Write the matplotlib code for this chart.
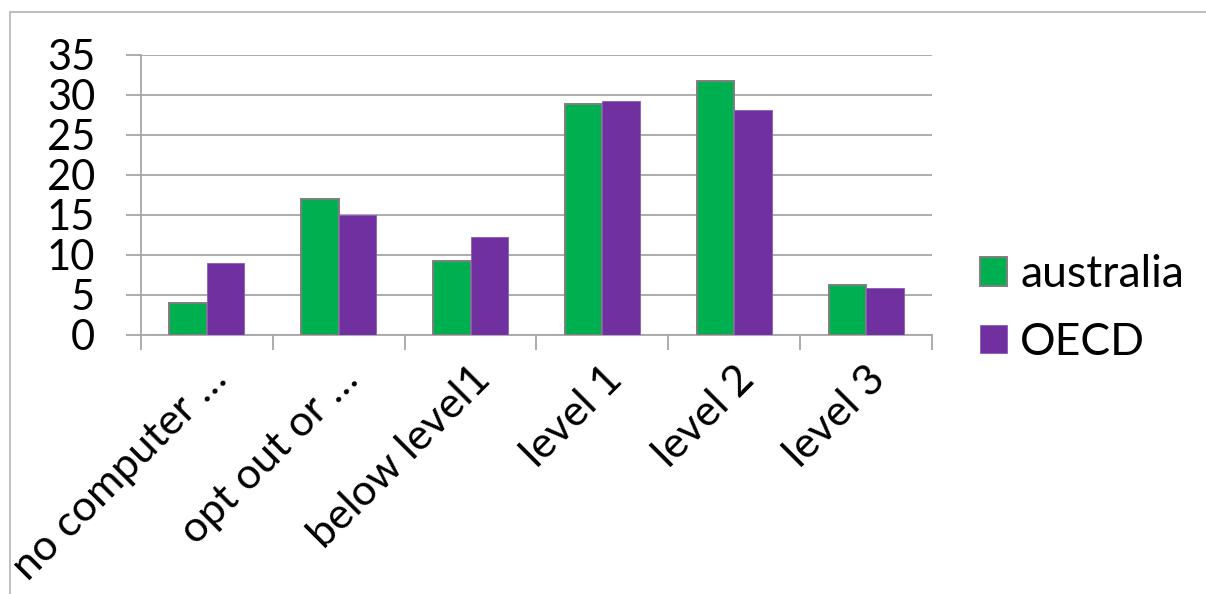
import matplotlib
matplotlib.use("Agg")
import matplotlib.pyplot as plt
import numpy as np
from matplotlib.patches import Rectangle

categories = ["no computer \u2026", "opt out or \u2026", "below level1", "level 1", "level 2", "level 3"]
australia = [4.0, 17.0, 9.2, 28.9, 31.8, 6.2]
oecd = [8.95, 15.0, 12.25, 29.3, 28.15, 5.8]
series_names = ["australia", "OECD"]
yticks = [0, 5, 10, 15, 20, 25, 30, 35]

plt.rcParams['font.family'] = ['Lato', 'DejaVu Sans']

fig = plt.figure(figsize=(12.06, 5.94), dpi=100)
ax = fig.add_axes([141/1206, (594-334.5)/594, (932-141)/1206, (334.5-55)/594])

# outer border like the Excel chart area
fig.patches.append(Rectangle((10/1206, -0.1), 1.2, (594-12)/594 + 0.1,
                             transform=fig.transFigure, fill=False,
                             edgecolor='#b4b4b4', linewidth=1.2))

x = np.arange(len(categories))
w = 0.285
ax.bar(x - w/2, australia, w, color='#00B050', edgecolor='#7f7f7f', linewidth=1.4,
       label=series_names[0], zorder=3)
ax.bar(x + w/2, oecd, w, color='#7030A0', edgecolor='#8a5cb8', linewidth=0.6,
       label=series_names[1], zorder=3)

ax.set_xlim(-0.5, len(categories) - 0.5)
ax.set_ylim(0, 35)
ax.set_yticks(yticks)
ax.yaxis.grid(True, color='#a6a6a6', linewidth=1.3, zorder=0)
ax.set_axisbelow(True)

for s in ['top', 'right']:
    ax.spines[s].set_visible(False)
ax.spines['left'].set_color('#a6a6a6')
ax.spines['bottom'].set_color('#a6a6a6')
ax.spines['left'].set_linewidth(1.3)
ax.spines['bottom'].set_linewidth(1.3)

# category boundaries as major ticks, labels on minor ticks
ax.set_xticks(np.arange(len(categories) + 1) - 0.5)
ax.set_xticklabels([])
ax.set_xticks(x, minor=True)
ax.set_xticklabels(categories, minor=True, rotation=45, ha='right', va='top',
                   rotation_mode='anchor', fontsize=31)
ax.tick_params(axis='x', which='major', length=11, width=1.3, color='#a6a6a6', direction='out')
ax.tick_params(axis='x', which='minor', length=0, pad=18)
ax.tick_params(axis='y', length=11, width=1.3, color='#a6a6a6', labelsize=30, pad=22)

ax.legend(loc='center left', bbox_to_anchor=(1.0607, 0.093), frameon=False, fontsize=32,
          handlelength=0.6, handleheight=0.6, handletextpad=0.3, labelspacing=0.6,
          borderpad=0, borderaxespad=0)

fig.savefig("out.png", dpi=100)
